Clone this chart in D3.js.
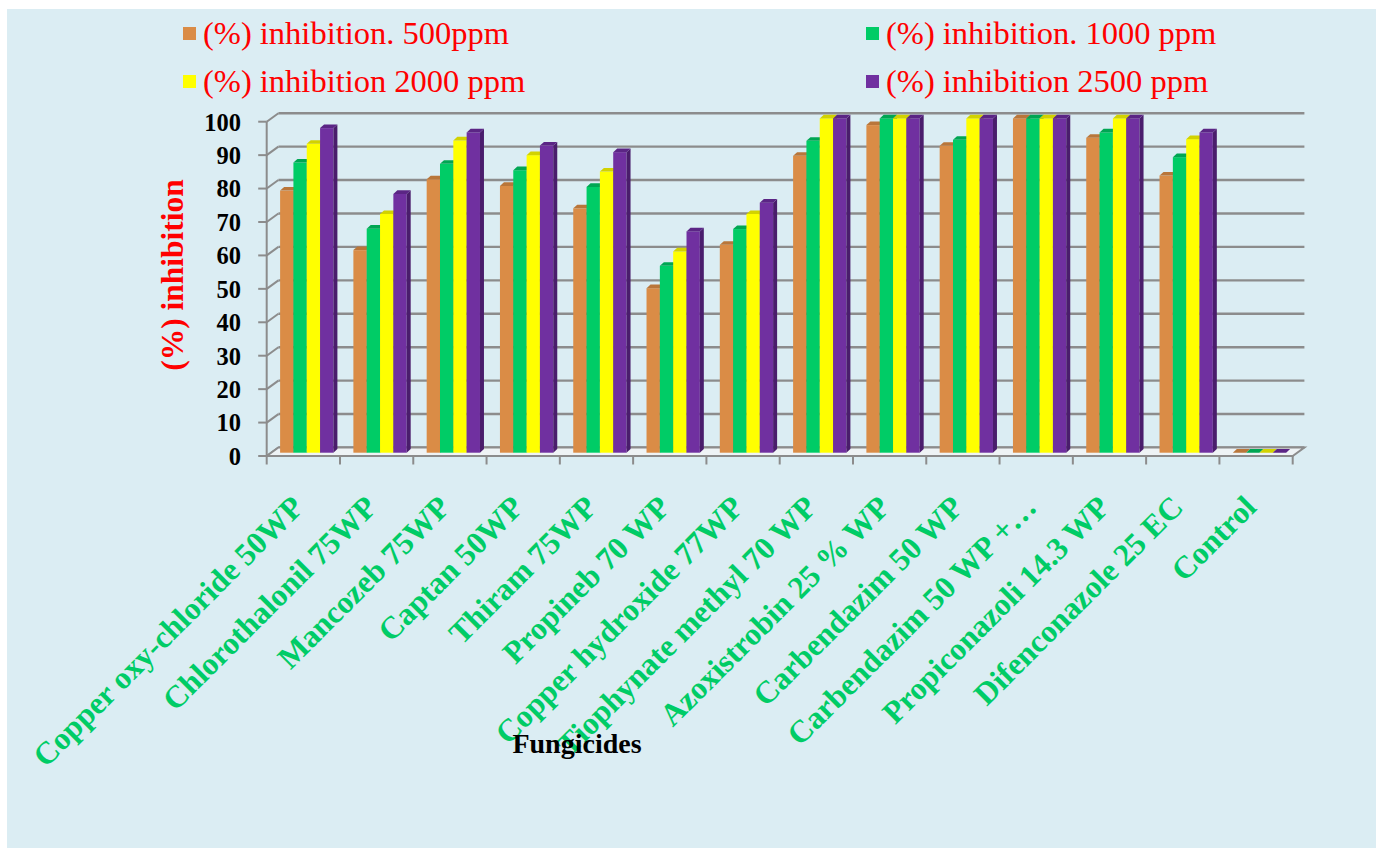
<!DOCTYPE html>
<html>
<head>
<meta charset="utf-8">
<script src="https://cdn.jsdelivr.net/npm/d3@7"></script>
<style>
  html, body { margin: 0; padding: 0; background: #ffffff; }
  svg { display: block; }
</style>
</head>
<body>
<svg id="chart" width="1376" height="848"></svg>
<script>
// Fungicide efficacy: percent inhibition of mycelial growth at four doses
const categories = [
  "Copper oxy-chloride 50WP",
  "Chlorothalonil 75WP",
  "Mancozeb 75WP",
  "Captan 50WP",
  "Thiram 75WP",
  "Propineb 70 WP",
  "Copper hydroxide 77WP",
  "Tiophynate methyl 70 WP",
  "Azoxistrobin 25 % WP",
  "Carbendazim 50 WP",
  "Carbendazim 50 WP +…",
  "Propiconazoli 14.3 WP",
  "Difenconazole 25 EC",
  "Control"
];
const seriesNames = [
  "(%) inhibition. 500ppm",
  "(%) inhibition. 1000 ppm",
  "(%) inhibition 2000 ppm",
  "(%) inhibition 2500 ppm"
];
const inhibition500  = [78.4, 60.6, 81.8, 79.8, 73.1, 49.2, 62.2, 88.8, 98.0, 91.8, 100, 94.2, 82.9, 0];
const inhibition1000 = [86.8, 67.0, 86.4, 84.5, 79.5, 55.9, 66.9, 93.3, 100, 93.6, 100, 95.8, 88.4, 0];
const inhibition2000 = [92.4, 71.4, 93.4, 89.0, 84.1, 60.2, 71.4, 100, 100, 100, 100, 100, 93.8, 0];
const inhibition2500 = [97.1, 77.4, 95.8, 91.9, 89.9, 66.2, 74.8, 100, 100, 100, 100, 100, 95.8, 0];
const yTicks = [0, 10, 20, 30, 40, 50, 60, 70, 80, 90, 100];

const seriesValues = [inhibition500, inhibition1000, inhibition2000, inhibition2500];
const faceColors = ["#DA8C46", "#00CC66", "#FFFF00", "#7030A0"];
const topColors  = ["#B9763A", "#00A653", "#D2D200", "#5B2585"];
const sideColors = ["#A86832", "#008F47", "#B8B800", "#4A1D6C"];

const serifBold = "'Liberation Serif', 'Times New Roman', Times, serif";
const serifRegular = "'Liberation Serif', 'Times New Roman', Times, 'DejaVu Serif', serif";

const svg = d3.select("#chart");
const W = 1376, H = 848;

// panel background
svg.append("rect").attr("x", 7).attr("y", 9).attr("width", W - 7).attr("height", H - 9)
  .attr("fill", "#DBEDF3");

// plot geometry (front plane) and wall depth
const x = d3.scaleBand().domain(categories).range([266.7, 1292.7]).padding(0);
const y = d3.scaleLinear().domain([0, 100]).range([456, 121.7]);
const DX = 11.7, DY = -8.5;          // full depth of the 3-D box
const BX = 4.4, BY = -3.3;           // offset of the bar row into the box
const bdx = 4.0, bdy = -3.6;         // depth of each bar
const xs = d3.scaleBand().domain(d3.range(4)).range([0, 53.3]).padding(0);
const groupInset = 9;

const gridColor = "#8C8C8C";
const x0 = x.range()[0], x1 = x.range()[1];

// back-wall gridlines and side-wall connectors
const grid = svg.append("g");
grid.selectAll("line.grid").data(yTicks).join("line")
  .attr("class", "grid")
  .attr("x1", x0 + DX).attr("x2", x1 + DX)
  .attr("y1", d => y(d) + DY).attr("y2", d => y(d) + DY)
  .attr("stroke", gridColor).attr("stroke-width", 2.4);
grid.selectAll("line.conn").data(yTicks).join("line")
  .attr("class", "conn")
  .attr("x1", x0).attr("x2", x0 + DX)
  .attr("y1", d => y(d)).attr("y2", d => y(d) + DY)
  .attr("stroke", gridColor).attr("stroke-width", 2);

// floor
svg.append("polygon")
  .attr("points", [[x0, y(0)], [x1, y(0)], [x1 + DX, y(0) + DY], [x0 + DX, y(0) + DY]].map(p => p.join(",")).join(" "))
  .attr("fill", "#EEF3F5").attr("stroke", gridColor).attr("stroke-width", 2);

// bars
const bars = svg.append("g");
categories.forEach((cat, ci) => {
  seriesValues.forEach((vals, si) => {
    const v = vals[ci];
    const left = x(cat) + groupInset + BX + xs(si);
    const w = xs.bandwidth();
    const top = y(v) + BY, bottom = y(0) + BY;
    const g = bars.append("g");
    if (bottom - top > 0.01) {
      g.append("rect").attr("x", left).attr("y", top).attr("width", w).attr("height", bottom - top)
        .attr("fill", faceColors[si]);
      g.append("polygon")
        .attr("points", [[left + w, top], [left + w + bdx, top + bdy], [left + w + bdx, bottom + bdy], [left + w, bottom]].map(p => p.join(",")).join(" "))
        .attr("fill", sideColors[si]);
    }
    g.append("polygon")
      .attr("points", [[left, top], [left + w, top], [left + w + bdx, top + bdy], [left + bdx, top + bdy]].map(p => p.join(",")).join(" "))
      .attr("fill", topColors[si]);
  });
});

// front value axis
const yAxis = svg.append("g");
yAxis.append("line").attr("x1", x0).attr("x2", x0).attr("y1", y(0)).attr("y2", y(100))
  .attr("stroke", gridColor).attr("stroke-width", 2);
yAxis.selectAll("line.tick").data(yTicks).join("line")
  .attr("class", "tick")
  .attr("x1", x0 - 8.5).attr("x2", x0).attr("y1", d => y(d)).attr("y2", d => y(d))
  .attr("stroke", gridColor).attr("stroke-width", 2);
yAxis.selectAll("text").data(yTicks).join("text")
  .attr("x", 241).attr("y", d => y(d))
  .attr("dy", "0.36em")
  .attr("text-anchor", "end")
  .attr("font-family", serifBold)
  .attr("font-weight", "bold").attr("font-size", 24.5)
  .attr("fill", "#000")
  .text(d => d);

// category axis ticks
const bounds = categories.map(c => x(c)).concat([x1]);
svg.append("g").selectAll("line").data(bounds).join("line")
  .attr("x1", d => d).attr("x2", d => d).attr("y1", y(0)).attr("y2", y(0) + 8.5)
  .attr("stroke", gridColor).attr("stroke-width", 2);

// category labels
svg.append("g").selectAll("text").data(categories).join("text")
  .attr("transform", d => `translate(${x(d) + x.bandwidth() / 2 + 2},${509}) rotate(-45)`)
  .attr("text-anchor", "end")
  .attr("font-family", serifBold)
  .attr("font-weight", "bold").attr("font-size", 31.5)
  .attr("fill", "#00CC66")
  .text(d => d);

// axis titles
svg.append("text")
  .attr("transform", "translate(183,275) rotate(-90)")
  .attr("text-anchor", "middle")
  .attr("font-family", serifBold)
  .attr("font-weight", "bold").attr("font-size", 31.5)
  .attr("fill", "#FF0000")
  .text("(%) inhibition");
svg.append("text")
  .attr("x", 577).attr("y", 753)
  .attr("text-anchor", "middle")
  .attr("font-family", serifBold)
  .attr("font-weight", "bold").attr("font-size", 28)
  .attr("fill", "#000")
  .text("Fungicides");

// legend
const legendPos = [[183, 27], [866, 27], [183, 75], [866, 75]];
const legend = svg.append("g").selectAll("g").data(seriesNames).join("g")
  .attr("transform", (d, i) => `translate(${legendPos[i][0]},${legendPos[i][1]})`);
legend.append("rect").attr("width", 13).attr("height", 13).attr("fill", (d, i) => faceColors[i]);
legend.append("text")
  .attr("x", 20).attr("y", 17)
  .attr("font-family", serifRegular)
  .attr("font-weight", "normal")
  .attr("font-size", 32.5)
  .attr("fill", "#FF0000")
  .text(d => d);
</script>
</body>
</html>
